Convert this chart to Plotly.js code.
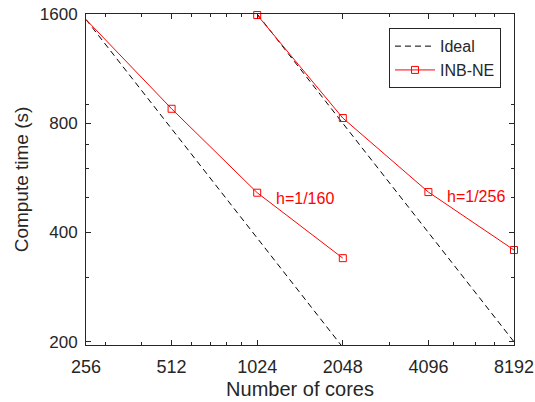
<!DOCTYPE html>
<html>
<head>
<meta charset="utf-8">
<script src="https://cdn.plot.ly/plotly-3.0.1.min.js"></script>
<style>html,body{margin:0;padding:0;background:#fff;}#chart{width:535px;height:402px;}</style>
</head>
<body>
<div id="chart"></div>
<script>
// Data
const cores160 = [256, 512, 1024, 2048];
const time160 = [1545, 877, 515, 340];
const cores256 = [1024, 2048, 4096, 8192];
const time256 = [1590, 827, 517, 358];
const idealCores160 = [256, 2048];
const idealTime160 = [1545, 193.1];
const idealCores256 = [1024, 8192];
const idealTime256 = [1600, 200];
const xTickVals = [256, 512, 1024, 2048, 4096, 8192];
const xTickText = ['256', '512', '1024', '2048', '4096', '8192'];
const xMinorVals = [300, 400, 600, 700, 800, 900, 3000, 5000, 6000, 7000];
const yTickVals = [200, 400, 800, 1600];
const yTickText = ['200', '400', '800', '1600'];
const yMinorVals = [300, 500, 600, 700, 900];
const labels = [
  {x: 1510, y: 498, text: 'h=1/160'},
  {x: 6000, y: 503, text: 'h=1/256'}
];

const txt = '#262626';
const red = '#ff0000';
const font = 'Liberation Sans, Arial, sans-serif';

const traces = [
  {x: idealCores160, y: idealTime160, mode: 'lines', name: 'Ideal',
   line: {color: '#000', width: 1, dash: '6px,4px'}, legendgroup: 'ideal'},
  {x: idealCores256, y: idealTime256, mode: 'lines', name: 'Ideal', showlegend: false,
   line: {color: '#000', width: 1, dash: '6px,4px'}, legendgroup: 'ideal'},
  {x: cores160, y: time160, mode: 'lines+markers', name: 'INB-NE',
   line: {color: red, width: 1}, marker: {symbol: 'square-open', size: 7, color: red, line: {width: 1, color: red}},
   cliponaxis: false},
  {x: cores256, y: time256, mode: 'lines+markers', name: 'INB-NE', showlegend: false,
   line: {color: red, width: 1}, marker: {symbol: 'square-open', size: 7, color: red, line: {width: 1, color: red}},
   cliponaxis: false}
];

const layout = {
  width: 535, height: 402,
  margin: {l: 86, r: 21, t: 14, b: 57},
  paper_bgcolor: '#fff', plot_bgcolor: '#fff',
  font: {family: font, color: txt, size: 16},
  showlegend: true,
  legend: {x: 0.9696, y: 0.957, xanchor: 'right', yanchor: 'top',
    bgcolor: '#fff', bordercolor: txt, borderwidth: 1,
    font: {family: font, size: 16, color: txt}, itemwidth: 40,
    tracegroupgap: 0},
  xaxis: {
    type: 'log', range: [Math.log10(256), Math.log10(8192)],
    tickvals: xTickVals, ticktext: xTickText,
    ticks: 'inside', ticklen: 5, tickcolor: txt, tickwidth: 1,
    minor: {tickvals: xMinorVals, ticks: 'inside', ticklen: 3, tickcolor: txt, tickwidth: 1},
    showline: true, linecolor: txt, linewidth: 1, mirror: 'ticks',
    showgrid: false, zeroline: false,
    tickfont: {family: font, size: 18, color: txt},
    ticklabelstandoff: 5,
    title: {text: 'Number of cores', font: {family: font, size: 20, color: txt}, standoff: 6}
  },
  yaxis: {
    type: 'log', range: [Math.log10(196), Math.log10(1600)],
    tickvals: yTickVals, ticktext: yTickText,
    ticks: 'inside', ticklen: 5, tickcolor: txt, tickwidth: 1,
    minor: {tickvals: yMinorVals, ticks: 'inside', ticklen: 3, tickcolor: txt, tickwidth: 1},
    showline: true, linecolor: txt, linewidth: 1, mirror: 'ticks',
    showgrid: false, zeroline: false,
    tickfont: {family: font, size: 17, color: txt},
    ticklabelstandoff: 4,
    title: {text: 'Compute time (s)', font: {family: font, size: 19, color: txt}, standoff: 6}
  },
  annotations: labels.map(l => ({x: Math.log10(l.x), y: Math.log10(l.y), xref: 'x', yref: 'y',
    text: l.text, showarrow: false, font: {family: font, size: 16, color: red}}))
};

Plotly.newPlot('chart', traces, layout, {displayModeBar: false, staticPlot: true});
</script>
</body>
</html>
